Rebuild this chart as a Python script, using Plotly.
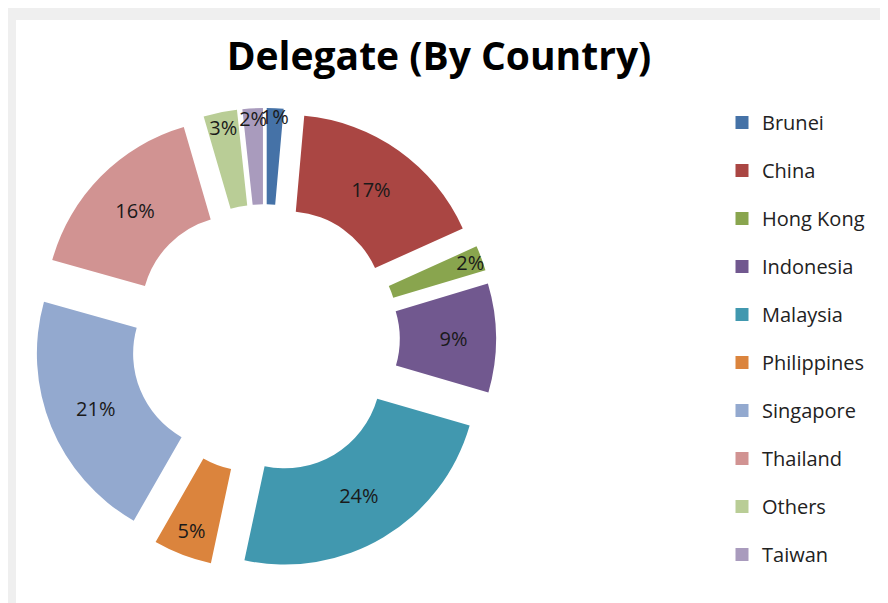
import plotly.graph_objects as go

countries = ["Brunei", "China", "Hong Kong", "Indonesia", "Malaysia",
             "Philippines", "Singapore", "Thailand", "Others", "Taiwan"]
shares = [1.4, 16.8, 2.1, 9.1, 23.8, 4.9, 21.0, 16.1, 2.8, 1.7]
colors = ["#4572A7", "#AA4643", "#89A54E", "#71588F", "#4198AF",
          "#DB843D", "#93A9CF", "#D19392", "#B9CD96", "#A99BBD"]

W, H = 888, 603
fig = go.Figure()

fig.add_trace(go.Pie(
    labels=countries, values=shares, sort=False, direction="clockwise", rotation=0,
    hole=0.5, pull=[0.2] * len(shares),
    marker=dict(colors=colors, line=dict(width=0)),
    texttemplate="%{percent:.0%}", textposition="inside",
    insidetextorientation="horizontal",
    textfont=dict(family="Open Sans", size=20, color="#1a1a1a"),
    showlegend=False,
    domain=dict(x=[26 / W, 488 / W], y=[(H - 562) / H, (H - 100) / H]),
))

for c, col in zip(countries, colors):
    fig.add_trace(go.Scatter(
        x=[None], y=[None], mode="markers", name=c, legendgroup=c,
        marker=dict(symbol="square", size=13, color=col),
    ))

fig.update_layout(
    width=W, height=H,
    paper_bgcolor="white", plot_bgcolor="white",
    margin=dict(l=0, r=0, t=0, b=0),
    xaxis=dict(visible=False), yaxis=dict(visible=False),
    uniformtext=dict(minsize=20, mode="show"),
    title=dict(text="<b>Delegate (By Country)</b>", x=431 / W, xanchor="center",
               y=1 - 48 / H, yanchor="middle",
               font=dict(family="Open Sans", size=39, color="black")),
    legend=dict(x=714 / W, xanchor="left", y=1 - 95 / H, yanchor="top",
                tracegroupgap=19, font=dict(family="Open Sans", size=20, color="#222"),
                itemwidth=30, bgcolor="rgba(0,0,0,0)"),
    shapes=[
        dict(type="rect", xref="paper", yref="paper", x0=0, x1=1, y0=1 - 12 / H, y1=1,
             fillcolor="#efefef", line=dict(width=0), layer="below"),
        dict(type="rect", xref="paper", yref="paper", x0=0, x1=8 / W, y0=0, y1=1,
             fillcolor="#efefef", line=dict(width=0), layer="below"),
    ],
)

fig.write_html("out.html")
